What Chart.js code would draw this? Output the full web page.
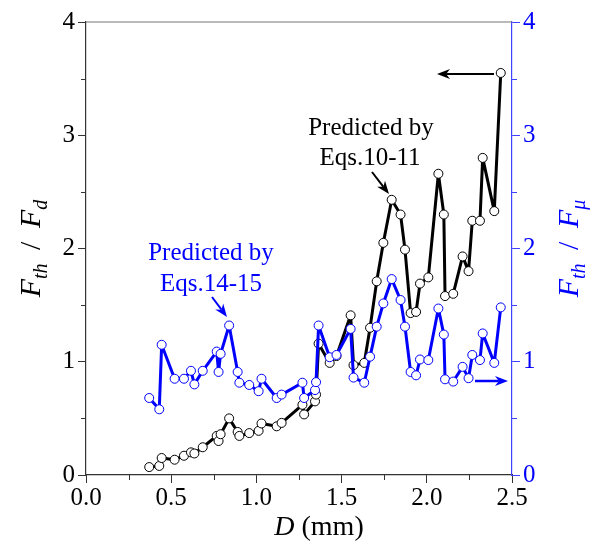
<!DOCTYPE html>
<html>
<head>
<meta charset="utf-8">
<script src="https://cdn.jsdelivr.net/npm/chart.js@4.4.0/dist/chart.umd.min.js"></script>
<style>
  html, body { margin: 0; padding: 0; background: #fff; }
  #contenedor { width: 595px; height: 550px; }
</style>
</head>
<body>
<div id="contenedor"><canvas id="grafico"></canvas></div>
<script>
// D (mm)
const diametro = [0.371, 0.43, 0.444, 0.52, 0.575, 0.616, 0.636, 0.685, 0.767, 0.778,
  0.79, 0.84, 0.89, 0.90, 0.958, 1.013, 1.03, 1.119, 1.148, 1.27,
  1.28, 1.344, 1.35, 1.365, 1.43, 1.47, 1.553, 1.57, 1.633, 1.667,
  1.706, 1.745, 1.794, 1.846, 1.872, 1.905, 1.937, 1.96, 2.009, 2.068,
  2.10, 2.107, 2.155, 2.21, 2.245, 2.267, 2.312, 2.328, 2.396, 2.434];
// F_th / F_d (eje izquierdo, negro)
const razonFd = [0.07, 0.08, 0.15, 0.135, 0.17, 0.20, 0.19, 0.245, 0.345, 0.30,
  0.36, 0.50, 0.38, 0.345, 0.37, 0.39, 0.455, 0.43, 0.46, 0.62,
  0.535, 0.65, 0.71, 1.16, 0.99, 1.05, 1.41, 0.97, 0.99, 1.30,
  1.71, 2.05, 2.43, 2.30, 1.99, 1.43, 1.44, 1.69, 1.745, 2.66,
  2.30, 1.58, 1.60, 1.93, 1.80, 2.245, 2.245, 2.80, 2.33, 3.55];
// F_th / F_mu (eje derecho, azul)
const razonFmu = [0.68, 0.58, 1.15, 0.85, 0.85, 0.92, 0.80, 0.92, 1.09, 0.91,
  1.07, 1.32, 0.91, 0.815, 0.795, 0.74, 0.85, 0.68, 0.71, 0.815,
  0.68, 0.75, 0.82, 1.32, 1.04, 1.06, 1.29, 0.86, 0.815, 1.045,
  1.31, 1.515, 1.73, 1.545, 1.31, 0.91, 0.88, 1.02, 1.015, 1.47,
  1.24, 0.845, 0.825, 0.955, 0.855, 1.06, 1.015, 1.25, 0.99, 1.48];

const ticksX = [0, 0.5, 1.0, 1.5, 2.0, 2.5];
const ticksY = [0, 1, 2, 3, 4];
const menoresX = [0.25, 0.75, 1.25, 1.75, 2.25];
const menoresY = [0.5, 1.5, 2.5, 3.5];

const AZUL = '#0000ff';
const SERIF = "'Liberation Serif', Tinos, 'Times New Roman', Times, serif";

function puntos(ys) {
  return diametro.map((d, i) => ({ x: d, y: ys[i] }));
}

// texto con subindices: partes = [[texto, italica, subindice], ...]
function textoCompuesto(ctx, partes, cx, cy, rot, color, tam) {
  ctx.save();
  ctx.translate(cx, cy);
  ctx.rotate(rot);
  ctx.fillStyle = color;
  ctx.textBaseline = 'alphabetic';
  const fuente = p => (p[1] ? 'italic ' : '') + (p[2] ? Math.round(tam * 0.65) : tam) + 'px ' + SERIF;
  let total = 0;
  for (const p of partes) { ctx.font = fuente(p); total += ctx.measureText(p[0]).width; }
  let x = -total / 2;
  for (const p of partes) {
    ctx.font = fuente(p);
    ctx.fillText(p[0], x, p[2] ? tam * 0.55 : tam * 0.33);
    x += ctx.measureText(p[0]).width;
  }
  ctx.restore();
}

function flecha(ctx, x1, y1, x2, y2, color, grosor) {
  const ang = Math.atan2(y2 - y1, x2 - x1);
  const largo = 13, ancho = 5;
  ctx.save();
  ctx.strokeStyle = color;
  ctx.fillStyle = color;
  ctx.lineWidth = grosor;
  ctx.beginPath();
  ctx.moveTo(x1, y1);
  ctx.lineTo(x2 - Math.cos(ang) * largo * 0.7, y2 - Math.sin(ang) * largo * 0.7);
  ctx.stroke();
  ctx.beginPath();
  ctx.moveTo(x2, y2);
  ctx.lineTo(x2 - largo * Math.cos(ang) + ancho * Math.sin(ang), y2 - largo * Math.sin(ang) - ancho * Math.cos(ang));
  ctx.lineTo(x2 - largo * 0.7 * Math.cos(ang), y2 - largo * 0.7 * Math.sin(ang));
  ctx.lineTo(x2 - largo * Math.cos(ang) - ancho * Math.sin(ang), y2 - largo * Math.sin(ang) + ancho * Math.cos(ang));
  ctx.closePath();
  ctx.fill();
  ctx.restore();
}

const extras = {
  id: 'extras',
  afterDraw(chart) {
    const ctx = chart.ctx;
    const { x, y, y2 } = chart.scales;
    const a = chart.chartArea;
    ctx.save();
    // marco superior
    ctx.strokeStyle = '#777';
    ctx.lineWidth = 1.2;
    ctx.beginPath();
    ctx.moveTo(a.left, a.top);
    ctx.lineTo(a.right, a.top);
    ctx.stroke();
    // marcas menores
    ctx.lineWidth = 1;
    ctx.strokeStyle = '#333';
    for (const v of menoresX) {
      const px = Math.round(x.getPixelForValue(v)) + 0.5;
      ctx.beginPath(); ctx.moveTo(px, a.bottom); ctx.lineTo(px, a.bottom + 5); ctx.stroke();
    }
    for (const v of menoresY) {
      const py = Math.round(y.getPixelForValue(v)) + 0.5;
      ctx.beginPath(); ctx.moveTo(a.left, py); ctx.lineTo(a.left - 5, py); ctx.stroke();
    }
    ctx.strokeStyle = '#4040ff';
    for (const v of menoresY) {
      const py = Math.round(y2.getPixelForValue(v)) + 0.5;
      ctx.beginPath(); ctx.moveTo(a.right, py); ctx.lineTo(a.right + 5, py); ctx.stroke();
    }
    ctx.restore();

    // titulos de ejes
    const sep = ' \u2009/\u2009 ';
    textoCompuesto(ctx, [['F', true, false], ['th', true, true], [sep, false, false], ['F', true, false], ['d', true, true]],
      30, (a.top + a.bottom) / 2, -Math.PI / 2, '#000', 30);
    textoCompuesto(ctx, [['F', true, false], ['th', true, true], [sep, false, false], ['F', true, false], ['\u03bc', true, true]],
      568, (a.top + a.bottom) / 2, -Math.PI / 2, AZUL, 30);
    textoCompuesto(ctx, [['D', true, false], [' (mm)', false, false]], 319, 526, 0, '#000', 28);

    // anotaciones
    ctx.save();
    ctx.font = '25px ' + SERIF;
    ctx.textAlign = 'center';
    ctx.textBaseline = 'alphabetic';
    ctx.fillStyle = '#000';
    ctx.fillText('Predicted by', 371, 135);
    ctx.fillText('Eqs.10-11', 370, 165);
    ctx.fillStyle = AZUL;
    ctx.fillText('Predicted by', 211, 260);
    ctx.fillText('Eqs.14-15', 211, 291);
    ctx.restore();
    flecha(ctx, 372, 172, 389, 194, '#000', 2);
    flecha(ctx, 212, 297, 227, 317, AZUL, 2);
    flecha(ctx, 494, 74, 437, 74, '#000', 2);
    flecha(ctx, 475, 381, 508, 381, AZUL, 2.5);
  }
};

function dibujar() {
  const ctx = document.getElementById('grafico').getContext('2d');
  return new Chart(ctx, {
    type: 'scatter',
    data: {
      datasets: [
        {
          label: 'Fth/Fmu',
          data: puntos(razonFmu),
          yAxisID: 'y2',
          showLine: true,
          borderColor: AZUL,
          borderWidth: 3,
          borderJoinStyle: 'round',
          pointRadius: 4.5,
          pointBorderWidth: 1,
          pointBorderColor: AZUL,
          pointBackgroundColor: '#fff',
          order: 0
        },
        {
          label: 'Fth/Fd',
          data: puntos(razonFd),
          yAxisID: 'y',
          showLine: true,
          borderColor: '#000',
          borderWidth: 3,
          borderJoinStyle: 'round',
          pointRadius: 4.5,
          pointBorderWidth: 1,
          pointBorderColor: '#000',
          pointBackgroundColor: '#fff',
          order: 1
        }
      ]
    },
    options: {
      responsive: true,
      maintainAspectRatio: false,
      animation: false,
      devicePixelRatio: 1,
      layout: { padding: { top: 22, left: 0, right: 0, bottom: 0 } },
      plugins: { legend: { display: false }, tooltip: { enabled: false } },
      scales: {
        x: {
          type: 'linear',
          min: 0,
          max: 2.5,
          afterBuildTicks: s => { s.ticks = ticksX.map(v => ({ value: v })); },
          afterFit: s => { s.height = 75; },
          ticks: {
            callback: v => v.toFixed(1),
            font: { family: SERIF, size: 25 },
            color: '#000',
            padding: 0,
            maxRotation: 0
          },
          grid: { drawOnChartArea: false, tickLength: 8, color: '#333' },
          border: { color: '#333', width: 1.2 }
        },
        y: {
          position: 'left',
          min: 0,
          max: 4,
          afterBuildTicks: s => { s.ticks = ticksY.map(v => ({ value: v })); },
          afterFit: s => { s.width = 86; },
          ticks: {
            font: { family: SERIF, size: 25 },
            color: '#000',
            padding: 3
          },
          grid: { drawOnChartArea: false, tickLength: 8, color: '#333' },
          border: { color: '#333', width: 1.2 }
        },
        y2: {
          position: 'right',
          min: 0,
          max: 4,
          afterBuildTicks: s => { s.ticks = ticksY.map(v => ({ value: v })); },
          afterFit: s => { s.width = 83; },
          ticks: {
            font: { family: SERIF, size: 25 },
            color: AZUL,
            padding: 3
          },
          grid: { drawOnChartArea: false, tickLength: 8, color: '#4040ff' },
          border: { color: '#4040ff', width: 1.2 }
        }
      }
    },
    plugins: [extras]
  });
}

Promise.all([
  document.fonts.load("24px 'Liberation Serif'"),
  document.fonts.load("italic 24px 'Liberation Serif'")
]).then(dibujar, dibujar);
</script>
</body>
</html>
